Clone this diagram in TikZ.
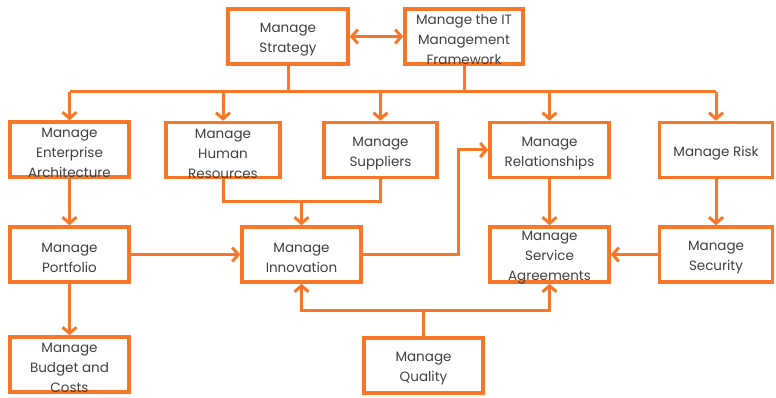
\documentclass[tikz,border=0pt]{standalone}
\usepackage{fontspec}
\setmainfont{Poppins}
\usetikzlibrary{arrows.meta}
\definecolor{procorange}{RGB}{248,118,40}
\definecolor{proctext}{RGB}{64,64,64}
\tikzset{
  procbox/.style={draw=procorange, line width=3.6pt, fill=white, inner sep=0pt,
    minimum height=55pt},
  proclabel/.style={inner sep=0pt, align=center, text=proctext,
    font=\fontsize{13.5}{20}\selectfont},
  link/.style={draw=procorange, line width=3pt},
  arr/.style={link, -{Straight Barb[length=6pt, width=14pt, line width=3pt]}},
  darr/.style={link, {Straight Barb[length=6pt, width=14pt, line width=3pt]}-{Straight Barb[length=6pt, width=14pt, line width=3pt]}}
}
% #1 name, #2 centre, #3 width, #4 text
\newcommand{\makeproc}[4]{%
  \node[procbox, minimum width=#3] (#1) at (#2) {};
  \node[proclabel] (#1-text) at ([yshift=-3.5pt]#1.center) {#4};
}
\begin{document}
\begin{tikzpicture}[x=1pt, y=-1pt]
\useasboundingbox (0,0) rectangle (776,398);

% governance level
\makeproc{strat}{288,36.5}{120pt}{Manage\\Strategy}
\makeproc{itmf}{464,36.5}{118pt}{Manage the IT\\Management\\Framework}

% first process row
\makeproc{ea}{69.5,149.5}{119pt}{Manage\\Enterprise\\Architecture}
\makeproc{hr}{223,150}{114pt}{Manage\\Human\\Resources}
\makeproc{sup}{380.5,150}{113pt}{Manage\\Suppliers}
\makeproc{rel}{549.5,150}{119pt}{Manage\\Relationships}
\makeproc{risk}{716,150}{113pt}{Manage Risk}

% second process row
\makeproc{port}{69.5,254.5}{119pt}{Manage\\Portfolio}
\makeproc{innov}{301.5,254.5}{119pt}{Manage\\Innovation}
\makeproc{sla}{549.5,254.5}{119pt}{Manage\\Service\\Agreements}
\makeproc{sec}{716,254.5}{113pt}{Manage\\Security}

% third process row
\makeproc{budget}{69.5,364.5}{119pt}{Manage\\Budget and\\Costs}
\makeproc{qual}{423.5,365.5}{119pt}{Manage\\Quality}

% helper levels for the buses
\coordinate (bus) at (0,92);
\coordinate (mbus) at (0,202);
\coordinate (qbus) at (0,310);
\coordinate (jog) at (458,0);

% strategy and framework
\draw[darr] (strat.east) -- (itmf.west);
\draw[link] (strat.south) -- (strat.south |- bus);
\draw[link] (itmf.south) -- (itmf.south |- bus);
\draw[link] (ea.north |- bus) -- (risk.north |- bus);
\foreach \n in {ea,hr,sup,rel,risk}
  \draw[arr] (\n.north |- bus) -- (\n.north);

% human resources and suppliers feed innovation
\draw[link] (hr.south) -- (hr.south |- mbus) -- (sup.south |- mbus) -- (sup.south);
\draw[arr] (innov.north |- mbus) -- (innov.north);

% left column chain
\draw[arr] (ea.south) -- (port.north);
\draw[arr] (port.south) -- (budget.north);
\draw[arr] (port.east) -- (innov.west);

% innovation to relationships
\draw[arr] (innov.east) -- (innov.east -| jog) |- (rel.west);

% service agreements inputs
\draw[arr] (rel.south) -- (sla.north);
\draw[arr] (risk.south) -- (sec.north);
\draw[arr] (sec.west) -- (sla.east);

% quality feeds innovation and service agreements
\draw[link] (qual.north) -- (qual.north |- qbus);
\draw[arr] (qual.north |- qbus) -| (innov.south);
\draw[arr] (qual.north |- qbus) -| (sla.south);
\end{tikzpicture}
\end{document}
